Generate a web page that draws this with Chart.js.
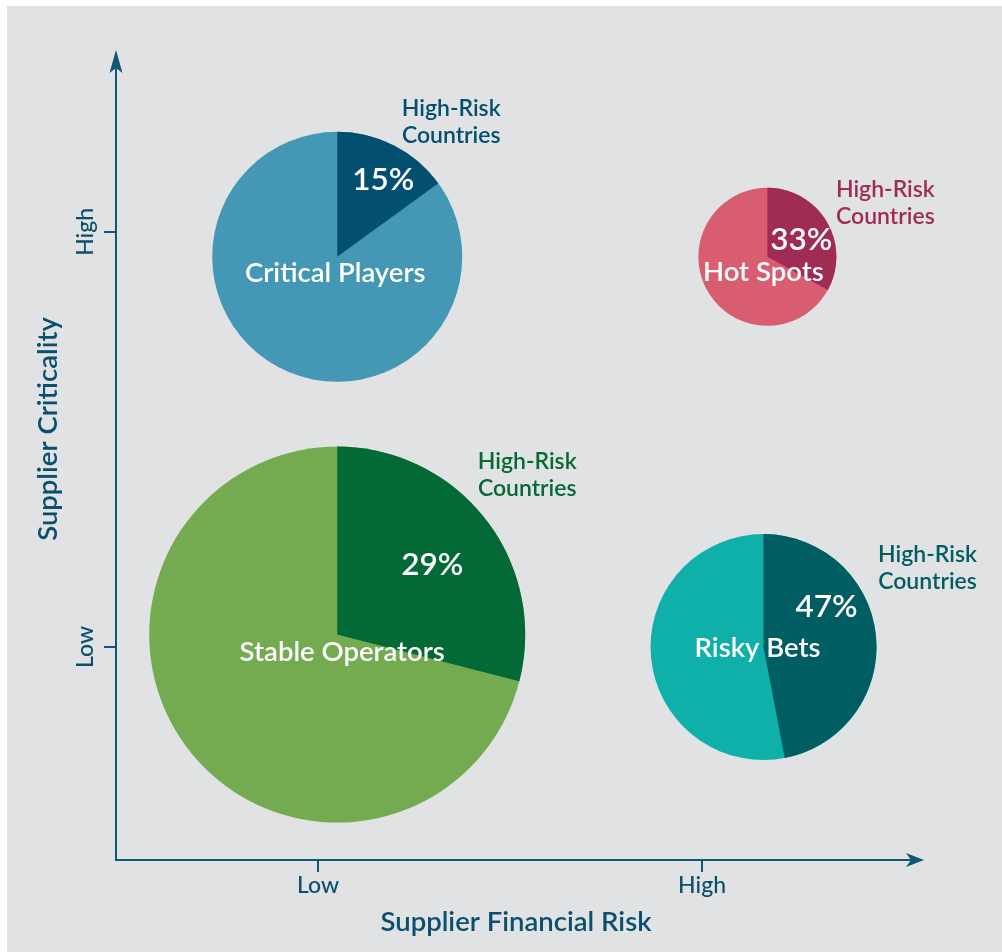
<!DOCTYPE html>
<html>
<head>
<meta charset="utf-8">
<script src="https://cdn.jsdelivr.net/npm/chart.js@4.4.0/dist/chart.umd.min.js"></script>
<style>
html,body{margin:0;padding:0;background:#ffffff;}
canvas{display:block;}
</style>
</head>
<body>
<canvas id="chart" width="1002" height="952"></canvas>
<script>
// ---- data ----
const segments = ['Critical Players', 'Hot Spots', 'Stable Operators', 'Risky Bets'];
const financialRisk = [1.05, 2.17, 1.05, 2.16];     // x position (1 = Low, 2 = High)
const criticality = [1.94, 1.94, 1.03, 1.00];       // y position (1 = Low, 2 = High)
const bubbleSize = [125, 69, 188, 113];             // bubble radius
const highRiskShare = [15, 33, 29, 47];             // % high-risk countries
const xTickValues = [1, 2];
const xTickLabels = ['Low', 'High'];
const yTickValues = [1, 2];
const yTickLabels = ['Low', 'High'];
const xTitle = 'Supplier Financial Risk';
const yTitle = 'Supplier Criticality';
const sliceLabel = ['High-Risk', 'Countries'];

// ---- styles ----
const lightColors = ['#4497b5', '#d95d70', '#74aa50', '#10b0aa'];
const darkColors = ['#034f70', '#a02c56', '#036937', '#005e63'];
const axisColor = '#0f5677';
const textColor = '#0b4f6e';
const FONT = 'Lato, "Open Sans", sans-serif';
// label offsets relative to bubble centre (px)
const pctOffset = [[46, -77], [34, -17], [95, -70], [63, -40]];
const nameOffset = [[-2, 16], [-4, 15], [5, 18], [-6, 1]];
const noteOffset = [[114, -135], [118, -54], [190, -159], [164, -79]];

const bgPlugin = {
  id: 'bg',
  beforeDraw(chart) {
    const ctx = chart.ctx;
    ctx.save();
    ctx.fillStyle = '#ffffff';
    ctx.fillRect(0, 0, chart.width, chart.height);
    ctx.fillStyle = '#e1e2e4';
    ctx.fillRect(7, 6, chart.width - 7, chart.height - 6);
    ctx.restore();
  }
};

const piePlugin = {
  id: 'pies',
  afterDatasetsDraw(chart) {
    const ctx = chart.ctx;
    const meta = chart.getDatasetMeta(0);
    meta.data.forEach((el, i) => {
      const r = el.options.radius;
      const start = -Math.PI / 2;
      const end = start + highRiskShare[i] / 100 * Math.PI * 2;
      ctx.save();
      ctx.beginPath();
      ctx.moveTo(el.x, el.y);
      ctx.arc(el.x, el.y, r, start, end);
      ctx.closePath();
      ctx.fillStyle = darkColors[i];
      ctx.fill();
      ctx.restore();
    });
    meta.data.forEach((el, i) => {
      ctx.save();
      ctx.textAlign = 'center';
      ctx.textBaseline = 'middle';
      ctx.fillStyle = '#ffffff';
      ctx.font = '600 31.5px ' + FONT;
      ctx.fillText(highRiskShare[i] + '%', el.x + pctOffset[i][0], el.y + pctOffset[i][1]);
      ctx.font = '600 27.5px ' + FONT;
      ctx.fillText(segments[i], el.x + nameOffset[i][0], el.y + nameOffset[i][1]);
      ctx.fillStyle = darkColors[i];
      ctx.font = '600 23px ' + FONT;
      ctx.fillText(sliceLabel[0], el.x + noteOffset[i][0], el.y + noteOffset[i][1] - 13.5);
      ctx.fillText(sliceLabel[1], el.x + noteOffset[i][0], el.y + noteOffset[i][1] + 13.5);
      ctx.restore();
    });
  },
  afterDraw(chart) {
    const ctx = chart.ctx;
    const a = chart.chartArea;
    ctx.save();
    ctx.fillStyle = axisColor;
    // y arrow
    const xa = a.left;
    ctx.beginPath();
    ctx.moveTo(xa, a.top - 10);
    ctx.lineTo(xa + 6.5, a.top + 13);
    ctx.lineTo(xa, a.top + 8);
    ctx.lineTo(xa - 6.5, a.top + 13);
    ctx.closePath();
    ctx.fill();
    ctx.fillRect(xa - 1, a.top - 2, 2, 12);
    // x arrow
    const ya = a.bottom;
    ctx.beginPath();
    ctx.moveTo(a.right + 8, ya);
    ctx.lineTo(a.right - 10, ya - 7);
    ctx.lineTo(a.right - 5, ya);
    ctx.lineTo(a.right - 10, ya + 7);
    ctx.closePath();
    ctx.fill();
    // y title
    ctx.translate(48, 429);
    ctx.rotate(-Math.PI / 2);
    ctx.textAlign = 'center';
    ctx.textBaseline = 'middle';
    ctx.fillStyle = textColor;
    ctx.font = '600 27.5px ' + FONT;
    ctx.fillText(yTitle, 0, 0);
    ctx.restore();
  }
};

new Chart(document.getElementById('chart'), {
  type: 'bubble',
  data: {
    datasets: [{
      label: 'Supplier segments',
      data: segments.map((s, i) => ({ x: financialRisk[i], y: criticality[i], r: bubbleSize[i] })),
      backgroundColor: lightColors,
      borderWidth: 0,
      hoverBorderWidth: 0,
      hoverRadius: 0,
      clip: false
    }]
  },
  options: {
    responsive: false,
    devicePixelRatio: 1,
    animation: false,
    events: [],
    layout: { autoPadding: false, padding: { top: 60, right: 86, left: 0, bottom: 0 } },
    plugins: { legend: { display: false }, tooltip: { enabled: false } },
    scales: {
      x: {
        type: 'linear',
        min: 0.474,
        max: 2.557,
        afterBuildTicks: s => { s.ticks = xTickValues.map(v => ({ value: v })); },
        afterFit: s => { s.height = 92; },
        ticks: {
          callback: (v) => xTickLabels[xTickValues.indexOf(v)],
          color: textColor,
          font: { family: FONT, size: 23, weight: '500' },
          padding: 0,
          maxRotation: 0,
          autoSkip: false
        },
        grid: { drawOnChartArea: false, drawTicks: true, tickLength: 12, color: axisColor, lineWidth: 2 },
        border: { display: true, color: axisColor, width: 2 },
        title: {
          display: true,
          text: xTitle,
          color: textColor,
          font: { family: FONT, size: 27.5, weight: '600' },
          padding: { top: 0, bottom: 13 }
        }
      },
      y: {
        type: 'linear',
        min: 0.487,
        max: 2.414,
        afterBuildTicks: s => { s.ticks = yTickValues.map(v => ({ value: v })); },
        afterFit: s => { s.width = 116; },
        ticks: {
          callback: (v) => yTickLabels[yTickValues.indexOf(v)],
          color: textColor,
          font: { family: FONT, size: 23, weight: '500' },
          minRotation: 90,
          maxRotation: 90,
          crossAlign: 'center',
          padding: -6,
          autoSkip: false
        },
        grid: { drawOnChartArea: false, drawTicks: true, tickLength: 12, color: axisColor, lineWidth: 2 },
        border: { display: true, color: axisColor, width: 2 }
      }
    }
  },
  plugins: [bgPlugin, piePlugin]
});
</script>
</body>
</html>
